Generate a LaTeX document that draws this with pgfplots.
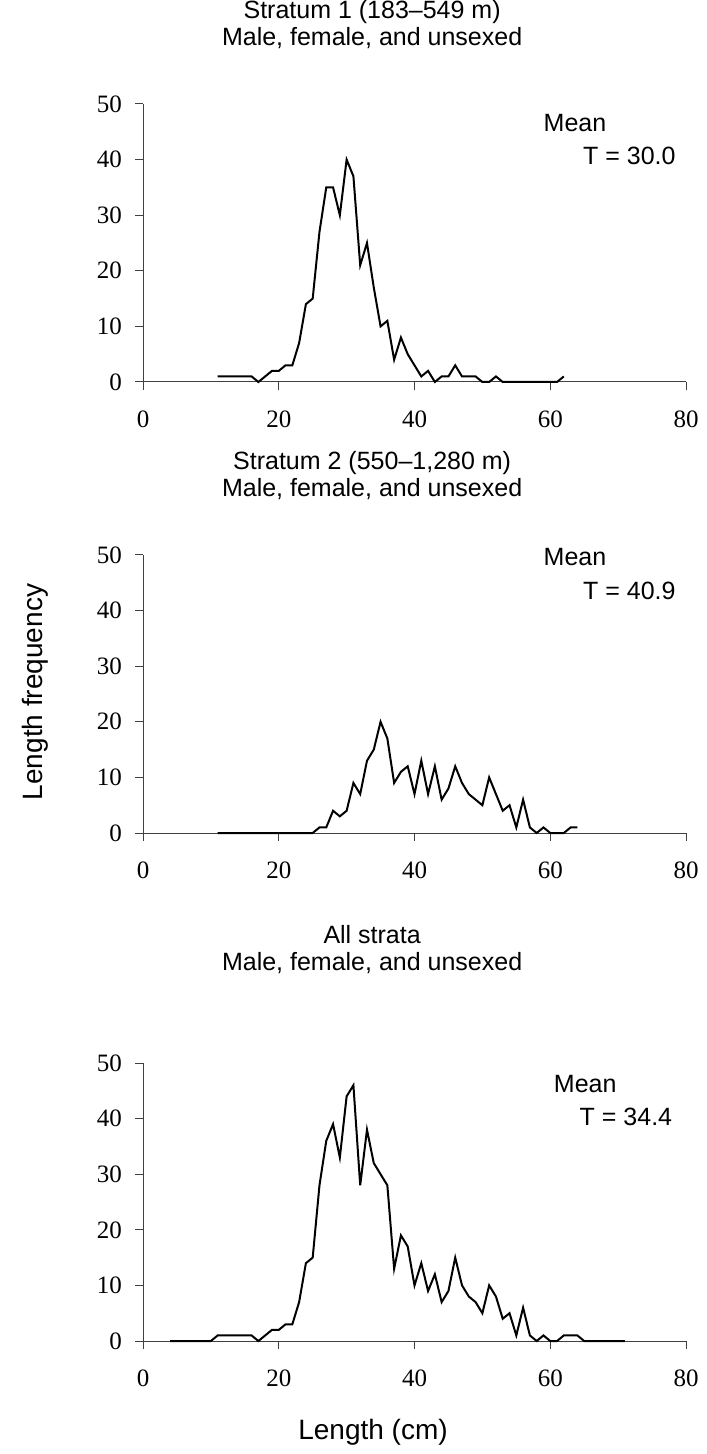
\documentclass[border=0pt]{standalone}
\usepackage{fontspec}
\setmainfont{Liberation Sans}
\newfontfamily\tnr{Liberation Serif}
\usepackage{pgfplots}
\pgfplotsset{compat=1.18}
\usepackage{pgfplotstable}

% length (cm) vs. count, one table per stratum
\pgfplotstableread{
x y
11 1
12 1
13 1
14 1
15 1
16 1
17 0
18 1
19 2
20 2
21 3
22 3
23 7
24 14
25 15
26 27
27 35
28 35
29 30
30 40
31 37
32 21
33 25
34 17
35 10
36 11
37 4
38 8
39 5
40 3
41 1
42 2
43 0
44 1
45 1
46 3
47 1
48 1
49 1
50 0
51 0
52 1
53 0
54 0
55 0
56 0
57 0
58 0
59 0
60 0
61 0
62 1
}\stratumone

\pgfplotstableread{
x y
11 0
12 0
13 0
14 0
15 0
16 0
17 0
18 0
19 0
20 0
21 0
22 0
23 0
24 0
25 0
26 1
27 1
28 4
29 3
30 4
31 9
32 7
33 13
34 15
35 20
36 17
37 9
38 11
39 12
40 7
41 13
42 7
43 12
44 6
45 8
46 12
47 9
48 7
49 6
50 5
51 10
52 7
53 4
54 5
55 1
56 6
57 1
58 0
59 1
60 0
61 0
62 0
63 1
64 1
}\stratumtwo

\pgfplotstableread{
x y
4 0
5 0
6 0
7 0
8 0
9 0
10 0
11 1
12 1
13 1
14 1
15 1
16 1
17 0
18 1
19 2
20 2
21 3
22 3
23 7
24 14
25 15
26 28
27 36
28 39
29 33
30 44
31 46
32 28
33 38
34 32
35 30
36 28
37 13
38 19
39 17
40 10
41 14
42 9
43 12
44 7
45 9
46 15
47 10
48 8
49 7
50 5
51 10
52 8
53 4
54 5
55 1
56 6
57 1
58 0
59 1
60 0
61 0
62 1
63 1
64 1
65 0
66 0
67 0
68 0
69 0
70 0
71 0
}\allstrata

\tikzset{
  ttl/.style={font=\fontsize{12.5}{13.5}\selectfont, align=center},
  meanlbl/.style={font=\fontsize{12.5}{15}\selectfont},
}
\pgfplotsset{
  lf/.style={
    scale only axis,
    width=271.5pt, height=139pt,
    xmin=0, xmax=80, ymin=0, ymax=50,
    xtick={0,20,...,80}, ytick={0,10,...,50},
    axis x line=bottom, axis y line=left,
    axis line style={-, black!75, line width=0.5pt},
    tick style={black!75, line width=0.5pt},
    tick align=outside,
    major tick length=4pt,
    /pgf/number format/assume math mode=true,
    ticklabel style={font=\tnr\fontsize{12.5}{14}\selectfont},
    xticklabel style={yshift=-7pt},
    yticklabel style={xshift=-3pt},
    clip=false,
  },
  series/.style={black, line width=1pt, mark=none},
}

\begin{document}
\begin{tikzpicture}
\path[use as bounding box] (-71.5pt,-536pt) rectangle (281.5pt,191pt);

\begin{axis}[lf, at={(0pt,0pt)}]
\addplot[series] table {\stratumone};
\node[ttl, anchor=south] at (rel axis cs:0.422,1) [yshift=24pt]
  {Stratum 1 (183--549 m)\\Male, female, and unsexed};
\node[meanlbl, anchor=west] at (axis cs:58,46.6) {Mean};
\node[meanlbl, anchor=east] at (axis cs:79.5,40.6) {T = 30.0};
\end{axis}

\begin{axis}[lf, at={(0pt,-225.5pt)}]
\addplot[series] table {\stratumtwo};
\node[ttl, anchor=south] at (rel axis cs:0.422,1) [yshift=24pt]
  {Stratum 2 (550--1,280 m)\\Male, female, and unsexed};
\node[meanlbl, anchor=west] at (axis cs:58,49.6) {Mean};
\node[meanlbl, anchor=east] at (axis cs:79.5,43.6) {T = 40.9};
\end{axis}

\begin{axis}[lf, at={(0pt,-479.5pt)}]
\addplot[series] table {\allstrata};
\node[ttl, anchor=south] at (rel axis cs:0.422,1) [yshift=41pt]
  {All strata\\Male, female, and unsexed};
\node[meanlbl, anchor=west] at (axis cs:59.5,46.2) {Mean};
\node[meanlbl, anchor=east] at (axis cs:79,40.3) {T = 34.4};
\end{axis}

\node[rotate=90, font=\fontsize{14}{16}\selectfont] at (-54pt,-155pt) {Length frequency};
\node[font=\fontsize{14}{16}\selectfont] at (115pt,-525pt) {Length (cm)};
\end{tikzpicture}
\end{document}
